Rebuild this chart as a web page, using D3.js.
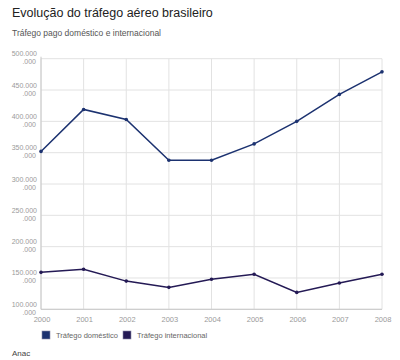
<!DOCTYPE html>
<html><head><meta charset="utf-8">
<script src="https://cdn.jsdelivr.net/npm/d3@7"></script>
<style>body{margin:0;background:#fff;font-family:Arial,"Liberation Sans",sans-serif;}</style>
</head><body>
<svg id="c" width="400" height="360"></svg>
<script>
const years = [2000,2001,2002,2003,2004,2005,2006,2007,2008];
const domestico = [352,419,403,338,338,364,400,443,479]; // milhões
const internacional = [159,164,145,135,148,156,127,142,156];
const yTicks = [100,150,200,250,300,350,400,450,500];
const seriesNames = ["Tráfego doméstico","Tráfego internacional"];
const colors = ["#1c3270","#241a55"];

const svg = d3.select("#c");
const L=41, R=382, T=58.7, B=309.3;
const x = d3.scaleLinear().domain([2000,2008]).range([L,R]);
const y = d3.scaleLinear().domain([100,500]).range([B,T]);

svg.append("rect").attr("width",400).attr("height",360).attr("fill","#fff");
svg.append("text").attr("x",12).attr("y",17).attr("font-size",12.5).attr("fill","#222").text("Evolução do tráfego aéreo brasileiro");
svg.append("text").attr("x",12).attr("y",36).attr("font-size",8.5).attr("fill","#555").text("Tráfego pago doméstico e internacional");

// grid
const g = svg.append("g");
g.selectAll(".hg").data(yTicks).join("line")
  .attr("x1",L).attr("x2",R).attr("y1",d=>y(d)).attr("y2",d=>y(d))
  .attr("stroke","#e2e2e2").attr("stroke-width",1);
g.selectAll(".vg").data(years).join("line")
  .attr("x1",d=>x(d)).attr("x2",d=>x(d)).attr("y1",T).attr("y2",B)
  .attr("stroke","#e2e2e2").attr("stroke-width",1);
g.append("line").attr("x1",L).attr("x2",L).attr("y1",T-2).attr("y2",B).attr("stroke","#c8c8c8");
g.append("line").attr("x1",L).attr("x2",R).attr("y1",B).attr("y2",B).attr("stroke","#c8c8c8");

// y labels (wrapped)
const fmt = v => d3.format(",")(v*1000000).replace(/,/g,".");
yTicks.forEach(v=>{
  const s = fmt(v);
  const first = s.slice(0, s.length-4), second = s.slice(s.length-4);
  g.append("text").attr("text-anchor","end").attr("font-size",7).attr("fill","#9a9a9a")
    .attr("x",37).attr("y",y(v)-2.5).text(first);
  g.append("text").attr("text-anchor","end").attr("font-size",7).attr("fill","#9a9a9a")
    .attr("x",36).attr("y",y(v)+5.5).text(second);
});
// x labels
g.selectAll(".xl").data(years).join("text")
  .attr("x",d=>x(d)+1).attr("y",322).attr("text-anchor","middle")
  .attr("font-size",7.5).attr("fill","#9a9a9a").text(d=>d);

// lines
[domestico, internacional].forEach((vals,i)=>{
  const line = d3.line().x((d,j)=>x(years[j])).y(d=>y(d));
  svg.append("path").datum(vals).attr("d",line).attr("fill","none")
    .attr("stroke",colors[i]).attr("stroke-width",1.5);
  svg.selectAll(".p"+i).data(vals).join("circle")
    .attr("cx",(d,j)=>x(years[j])).attr("cy",d=>y(d)).attr("r",1.8).attr("fill",colors[i]);
});

// legend
const lx=[42,123];
seriesNames.forEach((n,i)=>{
  svg.append("rect").attr("x",lx[i]).attr("y",331).attr("width",8).attr("height",8)
    .attr("fill",colors[i]).attr("stroke","#8a8aa8").attr("stroke-width",0.6);
  svg.append("text").attr("x",lx[i]+14).attr("y",338).attr("font-size",7.5).attr("fill","#666").text(n);
});
svg.append("text").attr("x",12).attr("y",356).attr("font-size",8).attr("fill","#444").text("Anac");
</script>
</body></html>
